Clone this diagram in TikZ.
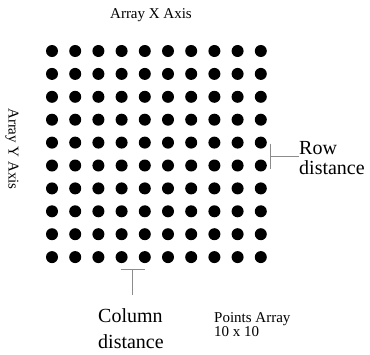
\documentclass[tikz,border=0pt]{standalone}
\usepackage{fontspec}
\setmainfont{Liberation Serif}
\usetikzlibrary{positioning, calc}

\begin{document}
\begin{tikzpicture}[
    x=1pt, y=-1pt,
    % Define node styles
    dot/.style={circle, fill=black, minimum size=12pt, inner sep=0pt},
    smalltext/.style={inner sep=0pt, font=\fontsize{15}{13}\selectfont, align=left},
    bigtext/.style={inner sep=0pt, align=left},
    % Define bracket style
    bracket/.style={draw=gray!90, line width=0.8pt},
]
\useasboundingbox (0,0) rectangle (370,354);

% Drawing the 10 x 10 points array
\foreach \i in {1,...,10} {
    \foreach \j in {1,...,10} {
        \node[dot] (d-\i-\j) at ({52+23.2*(\i-1)}, {51+22.9*(\j-1)}) {};
    }
}

% Axis labels
\node[smalltext] (xaxis) at (151,15) {Array X Axis};
\node[smalltext, rotate=-90] (yaxis) at (12,149) {Array Y Axis};

% Row distance bracket
\coordinate (rowtop) at ($(d-10-5.center)+(10,1)$);
\coordinate (rowbot) at ($(d-10-6.center)+(10,3)$);
\coordinate (rowmid) at ($(rowtop)!0.5!(rowbot)$);
\node[bigtext, anchor=west, font=\fontsize{20}{20}\selectfont] (rowlabel) at (299,158) {Row\\distance};
\draw[bracket] (rowtop) -- (rowbot);
\draw[bracket] (rowmid) -- (rowlabel.west |- rowmid);

% Column distance bracket
\coordinate (colleft) at ($(d-4-10.center)+(-1,12)$);
\coordinate (colright) at ($(d-5-10.center)+(0,12)$);
\coordinate (colmid) at ($(colleft)!0.5!(colright)$);
\coordinate (colend) at ($(colmid)+(0,26)$);
\draw[bracket] (colleft) -- (colright);
\draw[bracket] (colmid) -- (colend);
\node[bigtext, anchor=north west, font=\fontsize{20}{26}\selectfont] (collabel) at (98,308) {Column\\distance};

% Array size caption
\node[smalltext, anchor=north west] (caption) at (214,312) {Points Array\\10 x 10};

\end{tikzpicture}
\end{document}
